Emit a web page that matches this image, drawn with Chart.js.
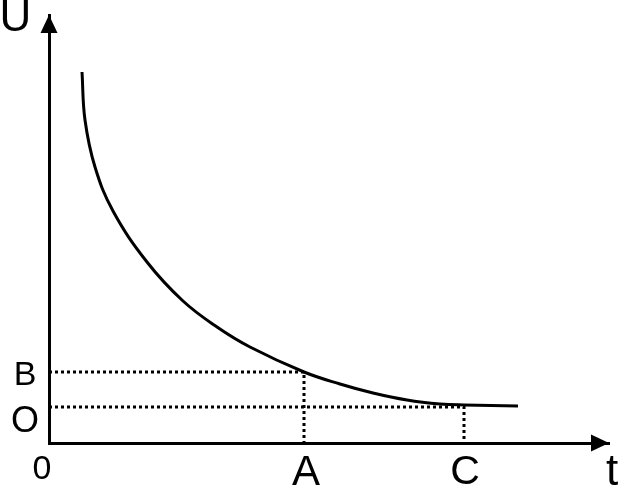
<!DOCTYPE html>
<html>
<head>
<meta charset="utf-8">
<script src="https://cdn.jsdelivr.net/npm/chart.js@4.4.0/dist/chart.umd.min.js"></script>
<style>
  body { margin: 0; background: #fff; }
  canvas { display: block; }
</style>
</head>
<body>
<canvas id="c" width="619" height="487"></canvas>
<script>
// ---------------- data ----------------
const curveT = [33, 36, 46, 64, 98, 134, 168, 201, 255, 291, 324, 358, 391, 415, 469];
const curveU = [371, 323, 276, 232, 181, 142, 116, 96, 71, 59, 50, 43, 39, 38, 37];

// marked points: A -> B and C -> O
const markT = [255, 415];
const markU = [71, 36];
const markTLabels = ["A", "C"];
const markULabels = ["B", "O"];

const tMax = 560;
const uMax = 428;

// ---------------- helpers ----------------
function guide(i) {
  return [
    { x: 0, y: markU[i] },
    { x: markT[i], y: markU[i] },
    { x: markT[i], y: 0 }
  ];
}

const FONT = "'Liberation Sans', Arial, sans-serif";

// axis arrows + letter labels
const labelsPlugin = {
  id: "labels",
  afterDraw(chart) {
    const ctx = chart.ctx;
    const xs = chart.scales.x;
    const ys = chart.scales.y;
    const x0 = xs.getPixelForValue(0);
    const y0 = ys.getPixelForValue(0);
    const area = chart.chartArea;

    ctx.save();
    ctx.fillStyle = "#000";
    // y arrow
    ctx.beginPath();
    ctx.moveTo(x0, area.top);
    ctx.lineTo(x0 - 8.5, area.top + 18);
    ctx.lineTo(x0 + 8.5, area.top + 18);
    ctx.closePath();
    ctx.fill();
    // x arrow
    ctx.beginPath();
    ctx.moveTo(area.right, y0);
    ctx.lineTo(area.right - 18, y0 - 8.5);
    ctx.lineTo(area.right - 18, y0 + 8.5);
    ctx.closePath();
    ctx.fill();

    ctx.textAlign = "center";
    ctx.textBaseline = "alphabetic";

    ctx.font = `44px ${FONT}`;
    ctx.fillText("U", 15.5, 31);
    ctx.fillText("t", 612, 485);

    ctx.font = `34px ${FONT}`;
    ctx.fillText("0", x0 - 7, 479);

    ctx.font = `42px ${FONT}`;
    ctx.fillText(markTLabels[0], xs.getPixelForValue(markT[0]) + 2, 485);
    ctx.font = `41px ${FONT}`;
    ctx.fillText(markTLabels[1], xs.getPixelForValue(markT[1]) + 1, 484);

    ctx.font = `34px ${FONT}`;
    ctx.fillText(markULabels[0], 25, ys.getPixelForValue(markU[0]) + 13);
    ctx.font = `36px ${FONT}`;
    ctx.fillText(markULabels[1], 25, ys.getPixelForValue(markU[1]) + 25);
    ctx.restore();
  }
};

const dotted = {
  borderColor: "#000",
  borderWidth: 3,
  borderDash: [3, 3],
  pointRadius: 0,
  tension: 0,
  fill: false
};

new Chart(document.getElementById("c"), {
  type: "line",
  data: {
    datasets: [
      {
        data: curveT.map((t, i) => ({ x: t, y: curveU[i] })),
        borderColor: "#000",
        borderWidth: 3,
        pointRadius: 0,
        tension: 0.4,
        fill: false
      },
      { data: guide(0), ...dotted },
      { data: guide(1), ...dotted }
    ]
  },
  options: {
    responsive: false,
    animation: false,
    layout: { padding: { top: 15, right: 10, left: 0, bottom: 0 } },
    plugins: { legend: { display: false }, tooltip: { enabled: false } },
    scales: {
      x: {
        type: "linear",
        min: 0,
        max: tMax,
        grid: { display: false },
        border: { display: true, color: "#000", width: 3 },
        ticks: { display: false },
        afterFit: s => { s.height = 44; }
      },
      y: {
        type: "linear",
        min: 0,
        max: uMax,
        grid: { display: false },
        border: { display: true, color: "#000", width: 3 },
        ticks: { display: false },
        afterFit: s => { s.width = 49; }
      }
    }
  },
  plugins: [labelsPlugin]
});
</script>
</body>
</html>
